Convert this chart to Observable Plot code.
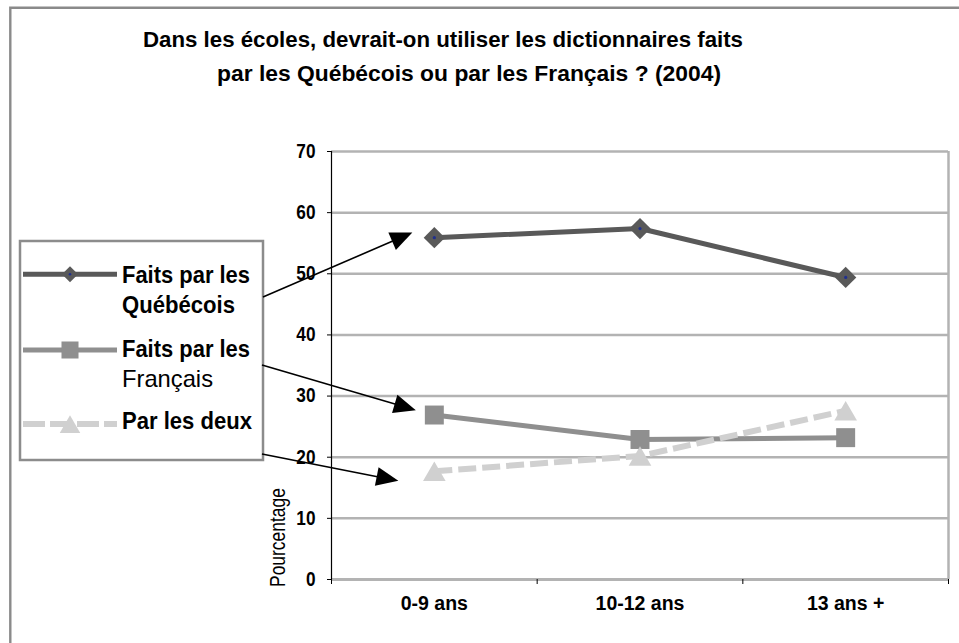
<!DOCTYPE html>
<html>
<head>
<meta charset="utf-8">
<script src="https://cdn.jsdelivr.net/npm/d3@7"></script>
<script src="https://cdn.jsdelivr.net/npm/@observablehq/plot@0.6"></script>
<style>
  html, body { margin: 0; padding: 0; background: #fff; }
  #chart svg { display: block; }
</style>
</head>
<body>
<div id="chart"></div>
<script>
// ---- data ----
const categories = ["0-9 ans", "10-12 ans", "13 ans +"];
const seriesNames = ["Faits par les Québécois", "Faits par les Français", "Par les deux"];
const quebecois = [55.9, 57.4, 49.4];
const francais = [26.9, 22.9, 23.2];
const lesDeux = [17.7, 20.2, 27.6];
const yTicks = [0, 10, 20, 30, 40, 50, 60, 70];
const titleLines = [
  "Dans les écoles, devrait-on utiliser les dictionnaires faits",
  "par les Québécois ou par les Français ? (2004)"
];
const yLabel = "Pourcentage";
const legendLines = [
  [{t: "Faits par les", w: "bold"}, {t: "Québécois", w: "bold"}],
  [{t: "Faits par les", w: "bold"}, {t: "Français", w: "normal"}],
  [{t: "Par les deux", w: "bold"}]
];

// ---- styles ----
const FONT = "'Liberation Sans', Arial, Helvetica, sans-serif";
const qColor = "#595959", fColor = "#8f8f8f", dColor = "#d0d0d0";
const gridColor = "#b3b3b3";

const toRows = (vals, s) => vals.map((v, i) => ({i, age: categories[i], value: v, series: s}));
const qRows = toRows(quebecois, seriesNames[0]);
const fRows = toRows(francais, seriesNames[1]);
const dRows = toRows(lesDeux, seriesNames[2]);
const bounds = d3.range(categories.length + 1).map(k => k - 0.5);

const chart = Plot.plot({
  width: 959,
  height: 643,
  marginLeft: 331,
  marginRight: 11,
  marginTop: 151,
  marginBottom: 64,
  style: {fontFamily: FONT, background: "white", color: "black"},
  x: {domain: [-0.5, categories.length - 0.5], label: null},
  y: {domain: [0, 70], label: null},
  marks: [
    Plot.gridY(yTicks, {stroke: gridColor, strokeOpacity: 1, strokeWidth: 2.5}),
    Plot.ruleX([bounds[bounds.length - 1]], {stroke: gridColor, strokeWidth: 2.5}),
    Plot.ruleY([0], {stroke: gridColor, strokeWidth: 3}),
    Plot.ruleX([bounds[0]], {stroke: "black", strokeWidth: 1.2}),
    Plot.axisY(yTicks, {tickSize: 4, tickPadding: 12, fontSize: 20, fontWeight: "bold", label: null, className: "yax"}),
    Plot.axisX(bounds, {tickSize: 5, tickFormat: () => "", label: null}),
    Plot.axisX(d3.range(categories.length), {tickSize: 0, tickPadding: 17, fontSize: 19.5, fontWeight: "bold",
      tickFormat: i => categories[i], label: null}),
    Plot.line(fRows, {x: "i", y: "value", stroke: fColor, strokeWidth: 5}),
    Plot.line(dRows, {x: "i", y: "value", stroke: dColor, strokeWidth: 6, strokeDasharray: "18,6", strokeLinecap: "butt"}),
    Plot.line(qRows, {x: "i", y: "value", stroke: qColor, strokeWidth: 5}),
    Plot.dot(fRows, {x: "i", y: "value", symbol: "square", r: 10.7, fill: fColor}),
    Plot.dot(dRows, {x: "i", y: "value", symbol: "triangle", r: 8.4, dy: 3.2, fill: dColor}),
    Plot.dot(qRows, {x: "i", y: "value", symbol: "diamond2", r: 9.6, fill: qColor}),
    Plot.dot(qRows, {x: "i", y: "value", r: 1.6, fill: "#1f2f8f"})
  ]
});

document.getElementById("chart").appendChild(chart);

const svg = d3.select(chart);
const xs = chart.scale("x"), ys = chart.scale("y");

// condense y tick labels (narrow bold face in the original)
svg.selectAll("g.yax text").each(function () {
  const n = this.getComputedTextLength();
  if (n > 0) {
    this.setAttribute("textLength", (n * 0.86).toFixed(2));
    this.setAttribute("lengthAdjust", "spacingAndGlyphs");
  }
});

// outer frame (cropped at right/bottom)
svg.append("path").attr("d", "M10.3,643V7.8H959").attr("fill", "none")
  .attr("stroke", "#8a8a8a").attr("stroke-width", 2.4);

// title
const titleSpec = [{x: 143, y: 47.3, w: 600}, {x: 217, y: 80.7, w: 504}];
titleLines.forEach((t, k) => {
  svg.append("text").attr("x", titleSpec[k].x).attr("y", titleSpec[k].y)
    .attr("text-anchor", "start")
    .attr("font-family", FONT).attr("font-size", 22).attr("font-weight", "bold")
    .attr("textLength", titleSpec[k].w).attr("lengthAdjust", "spacingAndGlyphs")
    .attr("fill", "black").text(t);
});

// y label
svg.append("text").attr("transform", "translate(285,537.5) rotate(-90)")
  .attr("text-anchor", "middle").attr("font-family", FONT).attr("font-size", 22)
  .attr("textLength", 99).attr("lengthAdjust", "spacingAndGlyphs")
  .attr("fill", "black").text(yLabel);

// legend
const lg = svg.append("g");
lg.append("rect").attr("x", 20).attr("y", 241).attr("width", 243).attr("height", 219)
  .attr("fill", "white").attr("stroke", "#8c8c8c").attr("stroke-width", 2.5);
const entries = [
  {y: 274.3, color: qColor, w: 5, dash: null, sym: d3.symbolDiamond2, r: 7.2, dy: 0},
  {y: 350, color: fColor, w: 5, dash: null, sym: d3.symbolSquare, r: 9.6, dy: 0},
  {y: 424, color: dColor, w: 6, dash: "22,5", sym: d3.symbolTriangle, r: 7.6, dy: 3}
];
entries.forEach(e => {
  const ln = lg.append("line").attr("x1", 23).attr("x2", 117).attr("y1", e.y).attr("y2", e.y)
    .attr("stroke", e.color).attr("stroke-width", e.w);
  if (e.dash) ln.attr("stroke-dasharray", e.dash);
  lg.append("path").attr("d", d3.symbol(e.sym, Math.PI * e.r * e.r)())
    .attr("transform", `translate(70,${e.y + e.dy})`).attr("fill", e.color);
});
lg.append("circle").attr("cx", 70).attr("cy", 274.3).attr("r", 1.3).attr("fill", "#1f2f8f");
const legendText = [
  {line: legendLines[0][0], y: 283.3, w: 128},
  {line: legendLines[0][1], y: 313.3, w: 113},
  {line: legendLines[1][0], y: 356.7, w: 128},
  {line: legendLines[1][1], y: 387.3, w: 91},
  {line: legendLines[2][0], y: 429.3, w: 130}
];
legendText.forEach(l => {
  lg.append("text").attr("x", 122).attr("y", l.y).attr("font-family", FONT)
    .attr("text-anchor", "start")
    .attr("font-size", 24).attr("font-weight", l.line.w)
    .attr("textLength", l.w).attr("lengthAdjust", "spacingAndGlyphs")
    .attr("fill", "black").text(l.line.t);
});

// arrows from legend to first points
function arrow(x0, y0, x1, y1) {
  const dx = x1 - x0, dy = y1 - y0, L = Math.hypot(dx, dy), ux = dx / L, uy = dy / L;
  const hl = 22, hw = 9.5;
  const bx = x1 - ux * hl, by = y1 - uy * hl;
  svg.append("line").attr("x1", x0).attr("y1", y0).attr("x2", bx + ux * 2).attr("y2", by + uy * 2)
    .attr("stroke", "black").attr("stroke-width", 1.6);
  svg.append("path")
    .attr("d", `M${x1},${y1}L${bx - uy * hw},${by + ux * hw}L${bx + uy * hw},${by - ux * hw}Z`)
    .attr("fill", "black");
}
const arrowSpec = [
  {from: [263, 297], val: quebecois[0], off: [-21.5, -4.6]},
  {from: [262, 365], val: francais[0], off: [-18, -4.4]},
  {from: [262, 454], val: lesDeux[0], off: [-35.5, 10]}
];
arrowSpec.forEach(a => {
  const px = xs.apply(0) + a.off[0], py = ys.apply(a.val) + a.off[1];
  arrow(a.from[0], a.from[1], px, py);
});
</script>
</body>
</html>
